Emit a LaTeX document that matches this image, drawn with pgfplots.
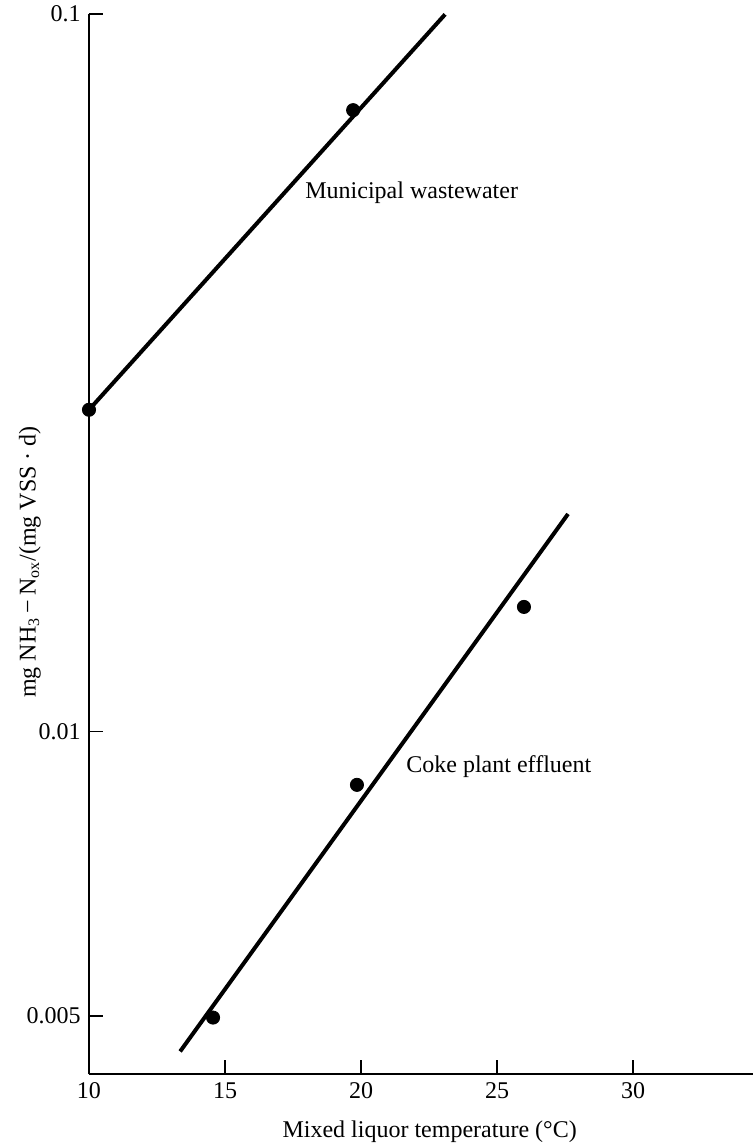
\documentclass[border=0pt,12pt]{standalone}
\usepackage{fontspec}
\setmainfont{Liberation Serif}
\usepackage{pgfplots}
\pgfplotsset{compat=1.18}
\begin{document}
\begin{tikzpicture}
\useasboundingbox (-44.5pt,-37pt) rectangle (332.5pt,537pt);
\begin{axis}[
  scale only axis, width=332pt, height=530pt,
  at={(0,0)}, anchor=south west,
  axis lines*=left,
  xmin=10, xmax=34.41,
  ymin=0.004308, ymax=0.1,
  y coord trafo/.code={\pgfmathparse{(ln(#1)/ln(10) < -2) ? (-2+1.3195*(ln(#1)/ln(10)+2)) : (ln(#1)/ln(10))}},
  xtick={10,15,20,25,30},
  ytick={0.005,0.01,0.1},
  yticklabels={0.005,0.01,0.1},
  tick align=inside,
  major tick length=7pt,
  tick style={black, line width=0.8pt},
  axis line style={black, line width=1pt},
  /pgf/number format/assume math mode=true,
  xlabel={Mixed liquor temperature (°C)},
  xlabel style={at={(axis description cs:0.513,-0.0547)}, anchor=center},
  ylabel={mg NH\textsubscript{3}\,−\,N\textsubscript{ox}/(mg VSS · d)},
  ylabel style={at={(axis description cs:-0.089,0.483)}, anchor=center},
  clip=false,
]
\addplot[black, line width=2pt] coordinates {(10,0.0282) (23.09,0.1)};
\addplot[only marks, mark=*, mark size=3.3pt, black] coordinates {(10,0.0282) (19.71,0.0736)};
\addplot[black, line width=2pt] coordinates {(13.35,0.004624) (27.61,0.0202)};
\addplot[only marks, mark=*, mark size=3.3pt, black] coordinates {(14.56,0.00502) (19.85,0.00883) (25.99,0.0150)};
\node[anchor=west, inner sep=0pt] at (rel axis cs:0.3253,0.831) {Municipal wastewater};
\node[anchor=west, inner sep=0pt] at (rel axis cs:0.4774,0.2896) {Coke plant effluent};
\end{axis}
\end{tikzpicture}
\end{document}
